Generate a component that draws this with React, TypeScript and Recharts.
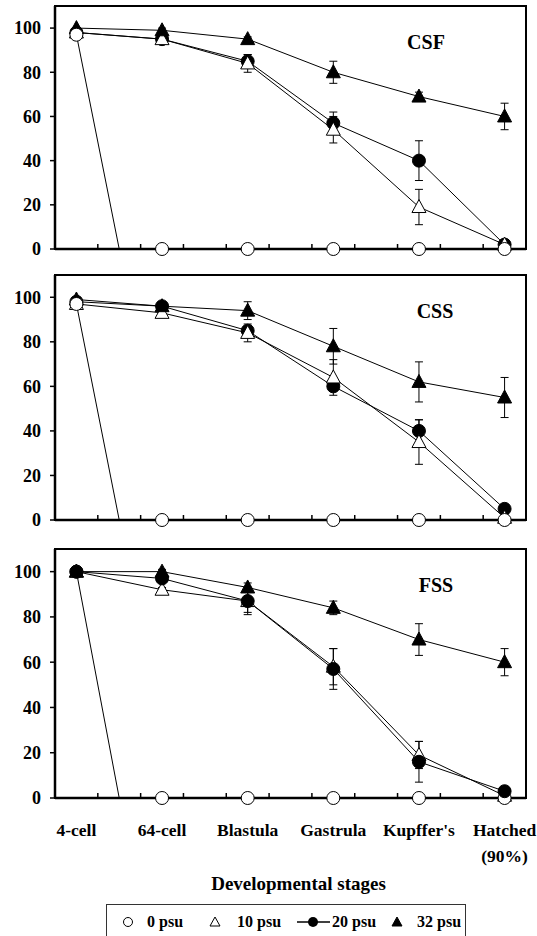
import React from "react";
import { ComposedChart, Line, XAxis, YAxis, ErrorBar, ReferenceArea } from "recharts";

const SERIF = "Liberation Serif, Tinos, Times New Roman, Times, DejaVu Serif, serif";

// x positions of the stages on the numeric axis, and their labels
const stagePos = [1, 2, 3, 4, 5, 6];
const stageLabels = ["4-cell", "64-cell", "Blastula", "Gastrula", "Kupffer's", "Hatched\n(90%)"];
const yTicks = [0, 20, 40, 60, 80, 100];
const zeroDropX = 1.5; // 0 psu line hits zero between 4-cell and 64-cell

// CSF
const csf0 = [97, 0, 0, 0, 0, 0];
const csf10 = [98, 95, 84, 54, 19, 2];
const csf10Err = [1, 1, 4, 6, 8, 1];
const csf20 = [98, 95, 85, 57, 40, 2];
const csf20Err = [1, 1, 3, 5, 9, 1];
const csf32 = [100, 99, 95, 80, 69, 60];
const csf32Err = [0, 1, 1, 5, 2, 6];

// CSS
const css0 = [97, 0, 0, 0, 0, 0];
const css10 = [97, 93, 84, 64, 35, 1];
const css10Err = [1, 1, 4, 8, 10, 1];
const css20 = [98, 96, 85, 60, 40, 5];
const css20Err = [1, 1, 2, 2, 5, 1];
const css32 = [99, 96, 94, 78, 62, 55];
const css32Err = [1, 1, 4, 8, 9, 9];

// FSS
const fss0 = [100, 0, 0, 0, 0, 0];
const fss10 = [100, 92, 87, 58, 19, 1];
const fss10Err = [0, 1, 5, 8, 6, 1];
const fss20 = [100, 97, 87, 57, 16, 3];
const fss20Err = [0, 1, 6, 9, 9, 1];
const fss32 = [100, 100, 93, 84, 70, 60];
const fss32Err = [0, 1, 2, 3, 7, 6];

const xTicks = stagePos.flatMap((p) => [p - 0.25, p, p + 0.25]);

function toPoints(values: number[], errs?: number[]) {
  return values.map((v, i) => ({ x: stagePos[i], y: v, err: errs ? errs[i] : 0, hidden: false }));
}

function zeroPoints(values: number[]) {
  const pts = toPoints(values);
  pts.splice(1, 0, { x: zeroDropX, y: 0, err: 0, hidden: true });
  return pts;
}

const openCircle = (p: any) =>
  p.payload?.hidden ? (
    <g key={`oc-${p.index}`} />
  ) : (
    <circle key={`oc-${p.index}`} cx={p.cx} cy={p.cy} r={6.5} fill="#fff" stroke="#000" strokeWidth={1} />
  );

const filledCircle = (p: any) => (
  <circle key={`fc-${p.index}`} cx={p.cx} cy={p.cy} r={6.5} fill="#000" stroke="#000" strokeWidth={1} />
);

const triangle = (fill: string) => (p: any) => (
  <polygon
    key={`tr-${fill}-${p.index}`}
    points={`${p.cx},${p.cy - 7.5} ${p.cx + 7},${p.cy + 5.5} ${p.cx - 7},${p.cy + 5.5}`}
    fill={fill}
    stroke="#000"
    strokeWidth={1}
  />
);

function StageTick(props: any) {
  const { x, y, payload, showLabels } = props;
  const v = payload.value;
  const axisY = y - 8;
  if (Math.abs(v - Math.round(v)) > 0.01) {
    return <line x1={x} x2={x} y1={axisY} y2={axisY - 5} stroke="#000" strokeWidth={1.5} />;
  }
  if (!showLabels) return <g />;
  const lines = stageLabels[Math.round(v) - 1].split("\n");
  return (
    <text x={x} y={axisY + 38} textAnchor="middle" style={{ fontFamily: SERIF, fontWeight: 700, fontSize: 17.5 }} fill="#000">
      {lines.map((l, i) => (
        <tspan key={i} x={x} dy={i === 0 ? 0 : 26}>
          {l}
        </tspan>
      ))}
    </text>
  );
}

interface PanelProps {
  top: number;
  marginTop: number;
  plotH: number;
  xAxisH: number;
  label: string;
  labelX: number;
  labelY: number;
  s0: number[];
  s10: number[];
  s10Err: number[];
  s20: number[];
  s20Err: number[];
  s32: number[];
  s32Err: number[];
  showLabels?: boolean;
  filledOnTop?: boolean;
}

function Panel(p: PanelProps) {
  const height = p.marginTop + p.plotH + p.xAxisH;

  const line20 = (
    <Line
      key="s20"
      data={toPoints(p.s20, p.s20Err)}
      dataKey="y"
      stroke="#000"
      strokeWidth={1}
      dot={filledCircle}
      activeDot={false}
      isAnimationActive={false}
    >
      <ErrorBar dataKey="err" direction="y" width={4} stroke="#000" strokeWidth={1} />
    </Line>
  );
  const line10 = (
    <Line
      key="s10"
      data={toPoints(p.s10, p.s10Err)}
      dataKey="y"
      stroke="#000"
      strokeWidth={1}
      dot={triangle("#fff")}
      activeDot={false}
      isAnimationActive={false}
    >
      <ErrorBar dataKey="err" direction="y" width={4} stroke="#000" strokeWidth={1} />
    </Line>
  );
  const line32 = (
    <Line
      key="s32"
      data={toPoints(p.s32, p.s32Err)}
      dataKey="y"
      stroke="#000"
      strokeWidth={1}
      dot={triangle("#000")}
      activeDot={false}
      isAnimationActive={false}
    >
      <ErrorBar dataKey="err" direction="y" width={4} stroke="#000" strokeWidth={1} />
    </Line>
  );
  const line0 = (
    <Line
      key="s0"
      data={zeroPoints(p.s0)}
      dataKey="y"
      stroke="#000"
      strokeWidth={1}
      dot={openCircle}
      activeDot={false}
      isAnimationActive={false}
    />
  );
  const series = p.filledOnTop ? [line10, line32, line0, line20] : [line20, line10, line32, line0];

  return (
    <div style={{ position: "absolute", left: 0, top: p.top, width: 537, height }}>
      <ComposedChart width={537} height={height} margin={{ top: p.marginTop, right: 11, bottom: 0, left: 0 }}>
        <XAxis
          type="number"
          dataKey="x"
          domain={[0.75, 6.25]}
          ticks={xTicks}
          interval={0}
          height={p.xAxisH}
          tickSize={6}
          tickMargin={2}
          tickLine={false}
          axisLine={{ stroke: "#000", strokeWidth: 2.5 }}
          tick={(tp: any) => <StageTick {...tp} showLabels={p.showLabels} />}
        />
        <YAxis
          type="number"
          domain={[0, 110]}
          ticks={yTicks}
          width={55}
          tickSize={5}
          tickMargin={9}
          axisLine={{ stroke: "#000", strokeWidth: 2.5 }}
          tickLine={{ stroke: "#000", strokeWidth: 1.5 }}
          tick={{ fill: "#000", style: { fontFamily: SERIF, fontWeight: 700, fontSize: 18 } }}
        />
        <ReferenceArea x1={0.75} x2={6.25} y1={0} y2={110} fill="none" stroke="#000" strokeWidth={2} />
        {series}
      </ComposedChart>
      <div
        style={{
          position: "absolute",
          left: p.labelX - 40,
          top: p.labelY - p.top - 12,
          width: 80,
          textAlign: "center",
          fontFamily: SERIF,
          fontWeight: 700,
          fontSize: 20,
          lineHeight: "24px",
        }}
      >
        {p.label}
      </div>
    </div>
  );
}

function LegendBox() {
  const cy = 18;
  const textStyle = { style: { fontFamily: SERIF, fontWeight: 700, fontSize: 16 } };
  return (
    <div
      style={{
        position: "absolute",
        left: 106,
        top: 904,
        width: 360,
        height: 34,
        border: "1px solid #333",
        boxSizing: "border-box",
      }}
    >
      <svg width={360} height={34} style={{ position: "absolute", left: -1, top: -1 }}>
        <circle cx={22} cy={cy} r={4.5} fill="#fff" stroke="#000" strokeWidth={1} />
        <text x={41} y={cy + 5} {...textStyle}>0 psu</text>
        <polygon points={`109,${cy - 5} 114,${cy + 4} 104,${cy + 4}`} fill="#fff" stroke="#000" strokeWidth={1} />
        <text x={131} y={cy + 5} {...textStyle}>10 psu</text>
        <line x1={191} x2={224} y1={cy} y2={cy} stroke="#000" strokeWidth={1.5} />
        <circle cx={207} cy={cy} r={5} fill="#000" />
        <text x={226} y={cy + 5} {...textStyle}>20 psu</text>
        <polygon points={`291,${cy - 5} 296,${cy + 4} 286,${cy + 4}`} fill="#000" stroke="#000" strokeWidth={1} />
        <text x={311} y={cy + 5} {...textStyle}>32 psu</text>
      </svg>
    </div>
  );
}

export default function App() {
  return (
    <div style={{ position: "absolute", left: 0, top: 0, width: 537, height: 936, overflow: "hidden", background: "#fff" }}>
      <Panel
        top={0}
        marginTop={6}
        plotH={243}
        xAxisH={14}
        label="CSF"
        labelX={426}
        labelY={42}
        s0={csf0}
        s10={csf10}
        s10Err={csf10Err}
        s20={csf20}
        s20Err={csf20Err}
        s32={csf32}
        s32Err={csf32Err}
      />
      <Panel
        top={263}
        marginTop={12}
        plotH={245}
        xAxisH={12}
        label="CSS"
        labelX={435}
        labelY={311}
        s0={css0}
        s10={css10}
        s10Err={css10Err}
        s20={css20}
        s20Err={css20Err}
        s32={css32}
        s32Err={css32Err}
      />
      <Panel
        top={532}
        marginTop={17}
        plotH={249}
        xAxisH={70}
        label="FSS"
        labelX={436}
        labelY={585}
        s0={fss0}
        s10={fss10}
        s10Err={fss10Err}
        s20={fss20}
        s20Err={fss20Err}
        s32={fss32}
        s32Err={fss32Err}
        showLabels
        filledOnTop
      />
      <div
        style={{
          position: "absolute",
          left: 0,
          top: 872,
          width: 537,
          textAlign: "center",
          paddingLeft: 60,
          boxSizing: "border-box",
          fontFamily: SERIF,
          fontWeight: 700,
          fontSize: 19,
          lineHeight: "24px",
        }}
      >
        Developmental stages
      </div>
      <LegendBox />
    </div>
  );
}
